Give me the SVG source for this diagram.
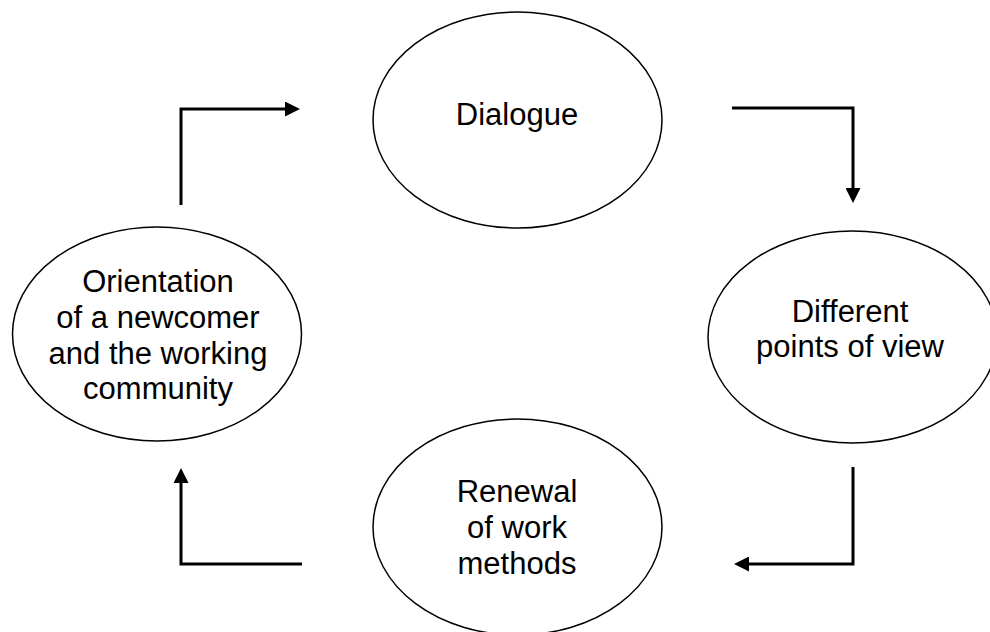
<svg xmlns="http://www.w3.org/2000/svg" width="990" height="632" viewBox="0 0 990 632">
<style>
.node{fill:#fff;stroke:#000;stroke-width:1.5}
.lbl{font-family:"Liberation Sans",Arial,sans-serif;font-size:31px;fill:#000;text-anchor:middle}
.conn{fill:none;stroke:#000;stroke-width:3}
</style>
<defs>
<marker id="ah" viewBox="0 0 15 15" refX="3" refY="7.5" markerWidth="15" markerHeight="15" markerUnits="userSpaceOnUse" orient="auto">
<path d="M0,0 L15,7.5 L0,15 z" fill="#000"/>
</marker>
</defs>
<rect width="990" height="632" fill="#fff"/>
<g id="dialogue">
<ellipse class="node" cx="517.5" cy="120" rx="144.5" ry="108"/>
<text class="lbl" x="517" y="125">Dialogue</text>
</g>
<g id="points-of-view">
<ellipse class="node" cx="852.5" cy="337" rx="144.5" ry="106"/>
<text class="lbl" x="850" y="322">Different</text>
<text class="lbl" x="850" y="357">points of view</text>
</g>
<g id="renewal">
<ellipse class="node" cx="517.5" cy="527" rx="144.5" ry="108"/>
<text class="lbl" x="517" y="502">Renewal</text>
<text class="lbl" x="517" y="538">of work</text>
<text class="lbl" x="517" y="574">methods</text>
</g>
<g id="orientation">
<ellipse class="node" cx="157" cy="334" rx="144.5" ry="107"/>
<text class="lbl" x="158" y="292">Orientation</text>
<text class="lbl" x="158" y="328">of a newcomer</text>
<text class="lbl" x="158" y="364">and the working</text>
<text class="lbl" x="158" y="399">community</text>
</g>
<g id="connectors">
<path class="conn" d="M181,205 V109 H288" marker-end="url(#ah)"/>
<path class="conn" d="M732,108 H853 V191" marker-end="url(#ah)"/>
<path class="conn" d="M853,467 V564 H746" marker-end="url(#ah)"/>
<path class="conn" d="M302,564 H181 V480" marker-end="url(#ah)"/>
</g>
</svg>
